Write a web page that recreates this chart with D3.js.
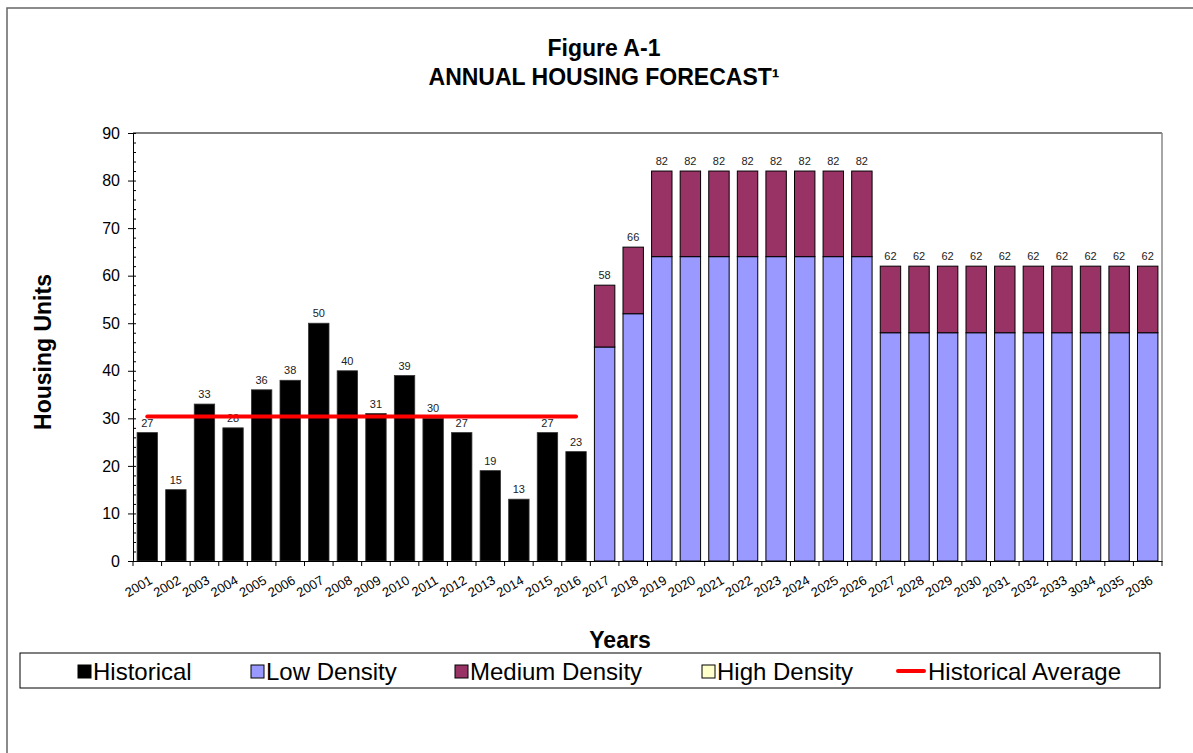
<!DOCTYPE html>
<html><head><meta charset="utf-8">
<script src="https://cdn.jsdelivr.net/npm/d3@7/dist/d3.min.js"></script>
<style>
body{margin:0;background:#fff}
text{font-family:"Liberation Sans",Arial,Helvetica,sans-serif}
</style>
</head><body>
<svg id="chart" width="1193" height="753"></svg>
<script>
// ---------------- DATA ----------------
const categories = ["2001","2002","2003","2004","2005","2006","2007","2008","2009","2010",
  "2011","2012","2013","2014","2015","2016","2017","2018","2019","2020","2021","2022",
  "2023","2024","2025","2026","2027","2028","2029","2030","2031","2032","2033","3034",
  "2035","2036"];
const historicalYears = ["2001","2002","2003","2004","2005","2006","2007","2008","2009","2010",
  "2011","2012","2013","2014","2015","2016"];
const historical = [27,15,33,28,36,38,50,40,31,39,30,27,19,13,27,23];
const forecastYears = ["2017","2018","2019","2020","2021","2022","2023","2024","2025","2026",
  "2027","2028","2029","2030","2031","2032","2033","3034","2035","2036"];
const lowDensity    = [45,52,64,64,64,64,64,64,64,64,48,48,48,48,48,48,48,48,48,48];
const mediumDensity = [13,14,18,18,18,18,18,18,18,18,14,14,14,14,14,14,14,14,14,14];
const highDensity   = [0,0,0,0,0,0,0,0,0,0,0,0,0,0,0,0,0,0,0,0];
const historicalAverage = 30.4;
const yTicks = [0,10,20,30,40,50,60,70,80,90];
const legendLabels = ["Historical","Low Density","Medium Density","High Density","Historical Average"];

// ---------------- STYLE / LAYOUT ----------------
const colors = {hist:"#000000", low:"#9999FF", med:"#993366", high:"#FFFFCC", avg:"#FF0000"};
const svg = d3.select("#chart");
const plot = {left:133, right:1162, top:133, bottom:561};

// outer frame
svg.append("rect").attr("x",7).attr("y",8).attr("width",1200).attr("height",760)
  .attr("fill","none").attr("stroke","#666").attr("stroke-width",1.5);

const x = d3.scaleBand().domain(categories).range([plot.left, plot.right])
  .paddingInner(0.2857).paddingOuter(0.1429);
const y = d3.scaleLinear().domain([0,90]).range([plot.bottom, plot.top]);

// plot frame (top + right)
svg.append("line").attr("x1",plot.left).attr("x2",plot.right).attr("y1",plot.top).attr("y2",plot.top)
  .attr("stroke","#000").attr("stroke-width",1);
svg.append("line").attr("x1",plot.right).attr("x2",plot.right).attr("y1",plot.top).attr("y2",plot.bottom)
  .attr("stroke","#888").attr("stroke-width",1.5);

// historical bars
svg.append("g").selectAll("rect").data(historical).join("rect")
  .attr("x",(d,i)=>x(historicalYears[i]))
  .attr("width",x.bandwidth())
  .attr("y",d=>y(d))
  .attr("height",d=>y(0)-y(d))
  .attr("fill",colors.hist).attr("stroke","#333").attr("stroke-width",0.8);

// stacked forecast bars
const stackData = forecastYears.map((yr,i)=>({year:yr, low:lowDensity[i], med:mediumDensity[i], high:highDensity[i]}));
const stack = d3.stack().keys(["low","med","high"])(stackData);
const keyColor = {low:colors.low, med:colors.med, high:colors.high};
svg.append("g").selectAll("g").data(stack).join("g")
  .attr("fill",s=>keyColor[s.key])
  .selectAll("rect").data(s=>s.filter(d=>d[1]-d[0]>0)).join("rect")
  .attr("x",d=>x(d.data.year))
  .attr("width",x.bandwidth())
  .attr("y",d=>y(d[1]))
  .attr("height",d=>y(d[0])-y(d[1]))
  .attr("stroke","#000").attr("stroke-width",1);

// value labels
const labelFont = 11;
svg.append("g").selectAll("text").data(historical).join("text")
  .attr("x",(d,i)=>x(historicalYears[i])+x.bandwidth()/2)
  .attr("y",d=>y(d)-6)
  .attr("text-anchor","middle").attr("font-size",labelFont).attr("fill","#222")
  .text(d=>d);
svg.append("g").selectAll("text").data(stackData).join("text")
  .attr("x",d=>x(d.year)+x.bandwidth()/2)
  .attr("y",d=>y(d.low+d.med+d.high)-6)
  .attr("text-anchor","middle").attr("font-size",labelFont).attr("fill","#222")
  .text(d=>d.low+d.med+d.high);

// historical average line
const avgLine = d3.line().x(d=>x(d)+x.bandwidth()/2).y(()=>y(historicalAverage));
svg.append("path").datum([historicalYears[0], historicalYears[historicalYears.length-1]])
  .attr("d",avgLine).attr("stroke",colors.avg).attr("stroke-width",4)
  .attr("stroke-linecap","round").attr("fill","none");

// y axis
const yAxis = svg.append("g").attr("transform",`translate(${plot.left},0)`)
  .call(d3.axisLeft(y).tickValues(yTicks).tickSize(5).tickPadding(8).tickSizeOuter(0));
yAxis.selectAll("text").attr("font-size",16).attr("fill","#000")
  .style("font-family",'"Liberation Sans",Arial,sans-serif');
yAxis.select(".domain").attr("stroke","#000");
// minor ticks (inside)
svg.append("g").attr("transform",`translate(${plot.left},0)`)
  .call(d3.axisRight(y).tickValues(d3.range(0,91,2)).tickSize(3).tickFormat("").tickSizeOuter(0))
  .call(g=>g.select(".domain").remove());

// x axis
const xAxis = svg.append("g").attr("transform",`translate(0,${plot.bottom})`)
  .call(d3.axisBottom(x).tickSize(0).tickSizeOuter(0));
xAxis.select(".domain").attr("stroke","#000");
xAxis.selectAll("text")
  .attr("font-size",13).attr("fill","#000")
  .style("font-family",'"Liberation Sans",Arial,sans-serif')
  .attr("text-anchor","end").attr("x",6).attr("y",22).attr("dy",0)
  .attr("transform","rotate(-30,6,22)");
// boundary ticks
const half = (x.step()-x.bandwidth())/2;
const bounds = categories.map(c=>x(c)-half).concat([plot.right]);
svg.append("g").selectAll("line").data(bounds).join("line")
  .attr("x1",d=>d).attr("x2",d=>d).attr("y1",plot.bottom).attr("y2",plot.bottom+5)
  .attr("stroke","#000");

// titles
const title = svg.append("text").attr("x",604).attr("text-anchor","middle")
  .attr("font-size",23).attr("font-weight","bold");
title.append("tspan").attr("x",604).attr("y",56).text("Figure A-1");
title.append("tspan").attr("x",604).attr("y",85).text("ANNUAL HOUSING FORECAST\u00B9");

svg.append("text").attr("transform","translate(51,352) rotate(-90)")
  .attr("text-anchor","middle").attr("font-size",23).attr("font-weight","bold")
  .text("Housing Units");
svg.append("text").attr("x",620).attr("y",648).attr("text-anchor","middle")
  .attr("font-size",23).attr("font-weight","bold").text("Years");

// legend
svg.append("rect").attr("x",20).attr("y",653).attr("width",1140).attr("height",35)
  .attr("fill","#fff").attr("stroke","#000").attr("stroke-width",1);
const legendTextX = [93,266,470,717,928];
const legendColors = [colors.hist, colors.low, colors.med, colors.high, colors.avg];
const lg = svg.append("g");
legendLabels.forEach((lab,i)=>{
  if(i<4){
    lg.append("rect").attr("x",legendTextX[i]-15).attr("y",665).attr("width",13).attr("height",13)
      .attr("fill",legendColors[i]).attr("stroke","#000").attr("stroke-width",1);
  } else {
    lg.append("line").attr("x1",legendTextX[i]-30).attr("x2",legendTextX[i]-4)
      .attr("y1",671).attr("y2",671).attr("stroke",legendColors[i]).attr("stroke-width",4)
      .attr("stroke-linecap","round");
  }
  lg.append("text").attr("x",legendTextX[i]).attr("y",680).attr("font-size",24)
    .attr("fill","#000").text(lab);
});
</script>
</body></html>
